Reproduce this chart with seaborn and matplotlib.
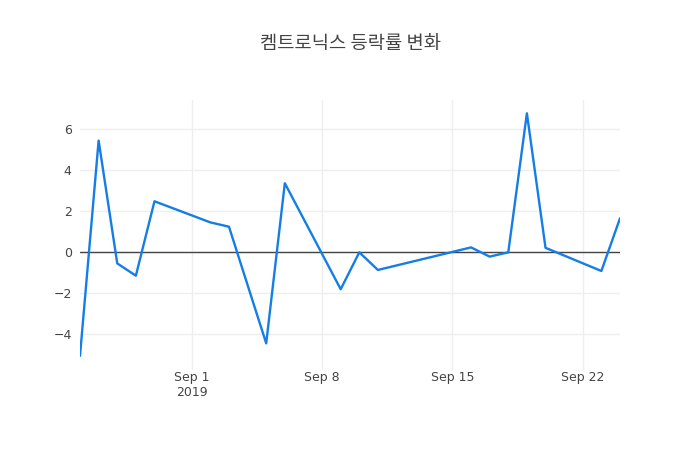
import pandas as pd
import matplotlib
matplotlib.use('Agg')
import matplotlib.pyplot as plt
import seaborn as sns

# trading days, daily change rate (%)
dates = ['2019-08-26', '2019-08-27', '2019-08-28', '2019-08-29', '2019-08-30',
         '2019-09-02', '2019-09-03', '2019-09-05', '2019-09-06', '2019-09-09',
         '2019-09-10', '2019-09-11', '2019-09-16', '2019-09-17', '2019-09-18',
         '2019-09-19', '2019-09-20', '2019-09-23', '2019-09-24']
changes = [-5.05, 5.45, -0.54, -1.14, 2.49,
           1.46, 1.25, -4.44, 3.37, -1.80,
           0.0, -0.86, 0.24, -0.21, 0.0,
           6.78, 0.22, -0.91, 1.66]

tick_dates = ['2019-09-01', '2019-09-08', '2019-09-15', '2019-09-22']
tick_labels = ['Sep 1\n2019', 'Sep 8', 'Sep 15', 'Sep 22']
y_ticks = [-4, -2, 0, 2, 4, 6]

df = pd.DataFrame({'date': pd.to_datetime(dates), 'change': changes})

sns.set_style('white')
plt.rcParams['font.family'] = ['Noto Sans CJK KR', 'DejaVu Sans']

fig = plt.figure(figsize=(7, 4.5), dpi=100)
ax = fig.add_axes([80 / 700, 80 / 450, 540 / 700, 270 / 450])

ax.grid(True, color='#eeeeee', linewidth=1)
ax.set_axisbelow(True)
ax.axhline(0, color='#444444', linewidth=1, zorder=1)

sns.lineplot(data=df, x='date', y='change', color='#147de6', linewidth=1.7, ax=ax, zorder=3)

ax.set_xlim(pd.Timestamp('2019-08-26'), pd.Timestamp('2019-09-24'))
ax.set_ylim(-5.74, 7.43)
ax.set_xticks(pd.to_datetime(tick_dates))
ax.set_xticklabels(tick_labels)
ax.set_yticks(y_ticks)
ax.set_yticklabels([str(v).replace('-', '\u2212') for v in y_ticks])
ax.tick_params(axis='both', length=0, labelsize=9, labelcolor='#444444')
ax.tick_params(axis='x', pad=1)
ax.tick_params(axis='y', pad=6)
for lab in ax.get_xticklabels() + ax.get_yticklabels():
    lab.set_fontfamily('DejaVu Sans')

for s in ax.spines.values():
    s.set_visible(False)
ax.set_xlabel('')
ax.set_ylabel('')

fig.text(351 / 700, 1 - 43 / 450, '켐트로닉스 등락률 변화', ha='center', va='center',
         fontsize=13.5, color='#444444')

fig.savefig('out.png', dpi=100)
